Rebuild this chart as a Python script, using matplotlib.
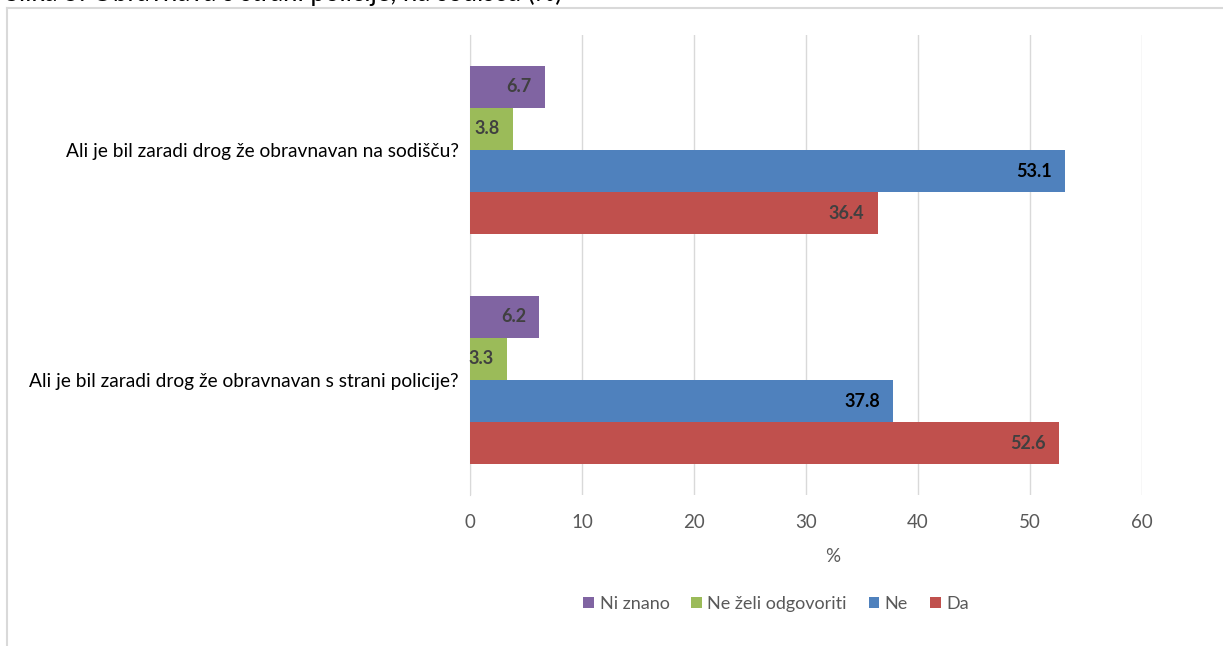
import numpy as np
import matplotlib.pyplot as plt
from matplotlib.lines import Line2D

plt.rcParams['font.family'] = ['Lato', 'DejaVu Sans']

categories = ['Ali je bil zaradi drog že obravnavan s strani policije?',
              'Ali je bil zaradi drog že obravnavan na sodišču?']
series = ['Da', 'Ne', 'Ne želi odgovoriti', 'Ni znano']
da = [52.6, 36.4]
ne = [37.8, 53.1]
ne_zeli = [3.3, 3.8]
ni_znano = [6.2, 6.7]
colors = ['#C0504D', '#4F81BD', '#9BBB59', '#8064A2']
label_colors = ['#404040', '#000000', '#404040', '#404040']

W, H = 1223, 646
fig = plt.figure(figsize=(W / 100, H / 100), dpi=100)
ax = fig.add_axes([470 / W, 1 - 495 / H, (1142 - 470) / W, (495 - 35) / H])

y = np.arange(len(categories))
h = 0.183
vals = [da, ne, ne_zeli, ni_znano]
for i, (v, c, lc) in enumerate(zip(vals, colors, label_colors)):
    pos = y + (i - 1.5) * h
    ax.barh(pos, v, height=h, color=c, label=series[i], zorder=3)
    for yy, xx in zip(pos, v):
        ax.annotate(f'{xx:.1f}', (xx, yy), xytext=(-9.5, 0), textcoords='offset points',
                    ha='right', va='center', color=lc, fontsize=13, fontweight='bold', zorder=4)

ax.set_xlim(0, 60)
ax.set_ylim(-0.5, 1.5)
ax.set_xticks(range(0, 61, 10))
ax.set_yticks(y)
ax.set_yticklabels(categories, fontsize=13.8, color='#000000')
ax.tick_params(axis='x', length=0, labelsize=13.5, labelcolor='#595959', pad=14)
ax.tick_params(axis='y', length=0, pad=8)
ax.grid(axis='x', color='#D9D9D9', linewidth=1, zorder=0)
for s in ['top', 'right', 'bottom']:
    ax.spines[s].set_visible(False)
ax.spines['left'].set_color('#D9D9D9')

fig.text(833 / W, 1 - 557 / H, '%', ha='center', va='center', fontsize=13.5, color='#595959')

handles, labels = ax.get_legend_handles_labels()
fig.legend(handles[::-1], labels[::-1], loc='center', bbox_to_anchor=(776 / W, 1 - 604 / H),
           ncol=4, frameon=False, fontsize=13, labelcolor='#595959',
           handlelength=0.6, handleheight=0.6, handletextpad=0.3, columnspacing=1.2)

# chart frame
fig.add_artist(Line2D([7 / W, 1], [1 - 8 / H, 1 - 8 / H], color='#D9D9D9', lw=1.5))
fig.add_artist(Line2D([7 / W, 7 / W], [0, 1 - 8 / H], color='#D9D9D9', lw=1.5))

# title cut off at top of image
fig.text(5 / W, 1 - 1 / H, 'Slika 5: Obravnava s strani policije, na sodišču (%)',
         ha='left', va='baseline', fontsize=18.5, color='#000000')

fig.savefig('out.png', dpi=100)
